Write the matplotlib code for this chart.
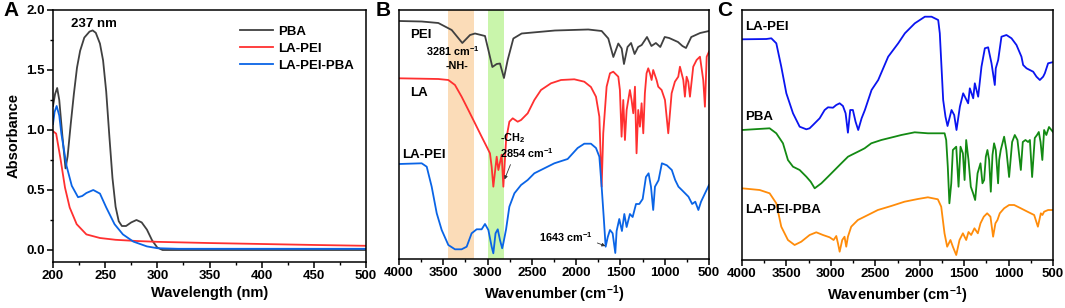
import matplotlib
matplotlib.use("Agg")
import matplotlib.pyplot as plt
from matplotlib.ticker import MultipleLocator

plt.rcParams['font.family'] = ['Liberation Sans', 'DejaVu Sans']
plt.rcParams['font.weight'] = 'bold'
plt.rcParams['mathtext.fontset'] = 'custom'
plt.rcParams['mathtext.rm'] = 'Liberation Sans:bold'
plt.rcParams['mathtext.bf'] = 'Liberation Sans:bold'
plt.rcParams['mathtext.default'] = 'bf'

# ---------------- Panel A: UV-vis ----------------
uv_pba_x = [200, 202, 204, 206, 209, 212, 214, 217, 220, 223, 226, 230, 235, 238, 241, 245, 248, 251, 254, 257, 260, 263, 266, 270, 275, 280, 285, 290, 295, 300, 305, 320, 350, 400, 450, 500]
uv_pba_y = [1.20, 1.30, 1.35, 1.25, 0.95, 0.68, 0.78, 1.05, 1.30, 1.52, 1.66, 1.77, 1.82, 1.83, 1.81, 1.72, 1.58, 1.32, 0.95, 0.60, 0.36, 0.24, 0.20, 0.20, 0.23, 0.25, 0.23, 0.17, 0.08, 0.02, 0.0, 0.0, 0.0, 0.0, 0.0, 0.0]

uv_lapei_x = [200, 203, 207, 211.5, 216, 222.7, 232, 245, 260, 280, 300, 350, 400, 450, 500]
uv_lapei_y = [0.99, 0.97, 0.77, 0.52, 0.354, 0.215, 0.13, 0.10, 0.085, 0.075, 0.068, 0.058, 0.05, 0.042, 0.035]

uv_lapeipba_x = [200, 201.5, 203.5, 206, 208, 213, 218, 224, 228, 232, 238.6, 245, 251, 259, 267, 277, 290, 300, 320, 400, 500]
uv_lapeipba_y = [1.05, 1.15, 1.20, 1.12, 0.97, 0.70, 0.535, 0.44, 0.45, 0.475, 0.50, 0.47, 0.355, 0.215, 0.13, 0.07, 0.03, 0.015, 0.01, 0.01, 0.01]

# ---------------- Panel B: FTIR (arbitrary offset units) ----------------
ir_pei_x = [4000, 3744, 3556, 3405, 3285, 3198, 3142, 3029, 2991, 2946, 2897, 2860, 2815, 2773, 2709, 2615, 2239, 1863, 1712, 1637, 1580, 1524, 1486, 1460, 1420, 1380, 1340, 1300, 1260, 1200, 1150, 1100, 1050, 1000, 950, 900, 850, 800, 760, 700, 600, 500]
ir_pei_y = [238, 237.5, 236, 229, 216, 224, 225.5, 223, 209, 192, 195, 195.5, 181, 199, 220.5, 225.5, 228.5, 229.5, 228, 220.5, 202, 215.5, 210.5, 195, 212, 216, 205, 212, 214, 222, 213, 216, 212, 222, 221, 219, 217, 213, 211, 222, 226, 228]

ir_la_x = [4000, 3744, 3556, 3443, 3368, 3293, 3217, 3142, 3067, 3010, 2973, 2954, 2935, 2897, 2878, 2841, 2822, 2791, 2754, 2716, 2660, 2622, 2547, 2472, 2397, 2284, 2171, 2021, 1908, 1833, 1776, 1738, 1712, 1694, 1656, 1618, 1581, 1524, 1506, 1487, 1468, 1449, 1430, 1393, 1374, 1355, 1336, 1318, 1299, 1280, 1261, 1242, 1224, 1205, 1186, 1167, 1148, 1130, 1092, 1073, 1035, 997, 960, 922, 885, 847, 828, 790, 772, 753, 734, 715, 678, 640, 602, 565, 546, 526, 500]
ir_la_y = [180.7, 180.3, 180, 179, 174, 162.3, 149, 135.7, 122.3, 112.3, 105.7, 92.3, 72.3, 102.3, 89, 104.3, 72.3, 119, 137.3, 140.7, 137.3, 139, 145.7, 159, 169, 175.7, 179, 179.7, 177.3, 172, 162.3, 142.3, 72.3, 125.7, 172.3, 185.7, 187.3, 182.3, 169, 122.3, 159, 119, 149, 169, 159, 145.7, 172.3, 105.7, 149, 132.3, 155.7, 125.7, 165.7, 185.7, 190.7, 185.7, 179, 189, 179, 172.3, 169, 159, 125.7, 165.7, 177.3, 182.3, 192.3, 179, 162.3, 182.3, 177.3, 162.3, 192.3, 199, 202.3, 179, 152.3, 202.3, 207.3]

ir_lapei_x = [4000, 3744, 3687, 3631, 3574, 3518, 3443, 3368, 3293, 3236, 3180, 3123, 3067, 3029, 2991, 2954, 2935, 2910, 2885, 2860, 2835, 2822, 2791, 2754, 2697, 2622, 2547, 2472, 2359, 2246, 2096, 1983, 1908, 1833, 1776, 1738, 1712, 1689, 1667, 1643, 1618, 1588, 1558, 1543, 1513, 1483, 1456, 1430, 1393, 1362, 1324, 1287, 1249, 1212, 1182, 1155, 1130, 1110, 1070, 1032, 976, 920, 882, 845, 807, 770, 732, 690, 655, 620, 590, 545, 500]
ir_lapei_y = [95, 95.7, 92.3, 72.3, 45.7, 29, 14, 9.7, 9.7, 12.3, 25.7, 29.7, 29.7, 35, 29, 12.3, 5.7, 25.7, 29.7, 19, 10.7, 15.7, 29.7, 52.3, 65.7, 74, 79, 85.7, 90.7, 95.7, 100, 111, 115.3, 115.3, 111, 102.3, 72.3, 42.3, 12.3, 22, 29, 25.7, 6, 28, 40, 28, 45, 32, 45, 42, 55, 55, 60, 82, 85.7, 72.3, 49, 72.3, 78.7, 95.7, 93.7, 89, 79, 72.3, 69, 65.7, 62.3, 55, 57.3, 49, 57.3, 65.7, 74]

# ---------------- Panel C: FTIR ----------------
irc_lapei_x = [4000, 3726, 3670, 3614, 3558, 3501, 3426, 3351, 3276, 3239, 3201, 3126, 3070, 3032, 2976, 2939, 2901, 2864, 2834, 2808, 2782, 2752, 2722, 2692, 2654, 2617, 2542, 2467, 2355, 2242, 2167, 2055, 1942, 1867, 1792, 1774, 1755, 1736, 1710, 1687, 1642, 1612, 1586, 1548, 1511, 1473, 1455, 1436, 1398, 1380, 1342, 1305, 1267, 1230, 1192, 1155, 1144, 1117, 1080, 1024, 967, 911, 855, 836, 798, 761, 723, 686, 648, 611, 592, 555, 480]
irc_lapei_y = [220.7, 221, 221.7, 216.7, 193.3, 166.7, 146.7, 133.3, 130.7, 131.7, 135, 141.7, 150, 152.7, 152.3, 155, 156.7, 154, 146.7, 127.3, 150, 150, 138.3, 130, 141.7, 150, 170, 180, 203.3, 216.7, 226.7, 236.7, 243.3, 243.3, 240, 226.7, 193.3, 160, 143.3, 134, 150, 145, 130, 153.3, 166.7, 160, 156.7, 171.7, 161.7, 176.7, 163.3, 193.3, 211.7, 212.7, 196.7, 175, 191.7, 200, 223.3, 225, 221.7, 215, 203.3, 195, 191.7, 190, 188.3, 183.3, 180, 183.3, 186.7, 196.7, 198.3]

irc_pba_x = [4000, 3689, 3614, 3539, 3483, 3426, 3351, 3276, 3227, 3182, 3107, 3032, 2957, 2882, 2807, 2770, 2695, 2657, 2620, 2545, 2432, 2282, 2207, 2057, 1907, 1720, 1702, 1684, 1666, 1645, 1627, 1589, 1563, 1541, 1514, 1495, 1477, 1451, 1425, 1399, 1376, 1349, 1316, 1294, 1275, 1256, 1238, 1219, 1200, 1181, 1163, 1144, 1118, 1106, 1088, 1050, 1025, 994, 960, 930, 900, 862, 840, 810, 780, 760, 735, 705, 680, 660, 640, 620, 600, 575, 545, 500]
irc_pba_y = [130, 131.7, 126.7, 116.7, 100, 93.3, 90, 83.3, 78.3, 71.7, 76.7, 83.3, 90, 96.7, 103.3, 105, 108.3, 110, 111.7, 116.7, 120, 123.3, 125, 127.7, 126.7, 126.7, 120, 93.3, 56.7, 76.7, 110, 113.3, 73.3, 113.3, 106.7, 80, 120, 100, 73.3, 66.7, 60, 86.7, 96.7, 76.7, 80, 103.3, 110, 100, 68.3, 105, 116.7, 110, 76.7, 100, 110, 123.3, 110, 83, 118, 125, 120, 90, 118, 120, 118, 120, 83, 122, 125, 128, 118, 100, 130, 125, 133, 128]

irc_lapeipba_x = [4000, 3801, 3689, 3614, 3558, 3483, 3408, 3333, 3239, 3164, 3089, 3014, 2969, 2939, 2920, 2901, 2872, 2846, 2827, 2808, 2771, 2696, 2583, 2471, 2321, 2171, 2021, 1908, 1796, 1758, 1721, 1691, 1654, 1627, 1589, 1552, 1514, 1477, 1451, 1421, 1384, 1346, 1316, 1279, 1241, 1204, 1174, 1148, 1125, 1099, 1050, 994, 937, 862, 787, 712, 670, 637, 619, 600, 555, 500]
irc_lapeipba_y = [71.7, 70, 66.7, 56.7, 33.3, 20, 15, 18.3, 25, 27.7, 25, 22.7, 20, 24, 16.7, 8.3, 20, 23.3, 13.3, 23.3, 33.3, 40, 45, 50, 54, 58.3, 61, 62.7, 60.7, 53.3, 26.7, 13.3, 20, 13.3, 5, 20, 26.7, 20, 28, 25, 31.7, 26.7, 36.7, 43.3, 46.7, 43.3, 23.3, 36.7, 40, 46.7, 51.7, 55, 55, 51.7, 48.3, 45, 33.3, 46.7, 45, 48.3, 50, 50]

# ---------------- Figure ----------------
fig = plt.figure(figsize=(10.65, 3.08), dpi=100)
W, H = 1065.0, 308.0

def add_axes(l, r, t, b):
    return fig.add_axes([l / W, 1 - b / H, (r - l) / W, (b - t) / H])

axA = add_axes(53, 366, 10, 262)
axB = add_axes(399, 709, 10, 259)
axC = add_axes(742, 1053, 10, 260)

tick_fs = 9.5
lab_fs = 10.5
wn_label = 'Wavenumber (cm$^{-1}$)'

for ax in (axA, axB, axC):
    for s in ax.spines.values():
        s.set_linewidth(1.1)
    ax.tick_params(which='major', direction='out', length=4, width=1.1, labelsize=tick_fs, pad=2)
    ax.tick_params(which='minor', direction='out', length=2.2, width=1.0)

# Panel A
axA.plot(uv_pba_x, uv_pba_y, color='#404040', lw=1.3, label='PBA')
axA.plot(uv_lapei_x, uv_lapei_y, color='#ff3030', lw=1.3, label='LA-PEI')
axA.plot(uv_lapeipba_x, uv_lapeipba_y, color='#0a64e6', lw=1.3, label='LA-PEI-PBA')
axA.set_xlim(200, 500)
axA.set_ylim(-0.1, 2.0)
axA.xaxis.set_major_locator(MultipleLocator(50))
axA.xaxis.set_minor_locator(MultipleLocator(25))
axA.yaxis.set_major_locator(MultipleLocator(0.5))
axA.yaxis.set_minor_locator(MultipleLocator(0.25))
axA.yaxis.set_major_formatter(matplotlib.ticker.FormatStrFormatter('%.1f'))
axA.set_xlabel('Wavelength (nm)', fontsize=lab_fs, fontweight='bold', labelpad=3)
axA.set_ylabel('Absorbance', fontsize=lab_fs, fontweight='bold', labelpad=4)
leg = axA.legend(loc='upper right', bbox_to_anchor=(1.0, 0.985), frameon=False, fontsize=9.5,
                 handlelength=2.5, handletextpad=0.4, labelspacing=0.35)
for t in leg.get_texts():
    t.set_fontweight('bold')
axA.text(239, 1.885, '237 nm', fontsize=9.5, fontweight='bold', ha='center', va='center')

# Panel B
axB.axvspan(3450, 3150, color='#fbdcb8', lw=0)
axB.axvspan(3000, 2810, color='#c9f5ab', lw=0)
axB.plot(ir_pei_x, ir_pei_y, color='#404040', lw=1.3)
axB.plot(ir_la_x, ir_la_y, color='#ff3030', lw=1.3)
axB.plot(ir_lapei_x, ir_lapei_y, color='#0a64e6', lw=1.3)
axB.set_xlim(4000, 500)
axB.set_ylim(0, 249)
axB.set_yticks([])
axB.xaxis.set_major_locator(MultipleLocator(500))
axB.xaxis.set_minor_locator(MultipleLocator(250))
axB.set_xlabel(wn_label, fontsize=lab_fs, fontweight='bold', labelpad=3)
axB.text(3880, 224, 'PEI', fontsize=9.5, fontweight='bold', ha='left', va='center')
axB.text(3880, 166, 'LA', fontsize=9.5, fontweight='bold', ha='left', va='center')
axB.text(3960, 104, 'LA-PEI', fontsize=9.5, fontweight='bold', ha='left', va='center')
axB.text(3390, 207.5, '3281 cm$^{-1}$', fontsize=7.8, fontweight='bold', ha='center', va='center')
axB.text(3350, 193.5, '-NH-', fontsize=7.8, fontweight='bold', ha='center', va='center')
axB.text(2860, 121, '-CH$_{2}$', fontsize=7.8, fontweight='bold', ha='left', va='center')
axB.text(2860, 106, '2854 cm$^{-1}$', fontsize=7.8, fontweight='bold', ha='left', va='center')
axB.annotate('', xy=(2820, 77), xytext=(2730, 97),
             arrowprops=dict(arrowstyle='-|>', color='#333333', lw=0.6, mutation_scale=5))
axB.text(1810, 22, '1643 cm$^{-1}$', fontsize=7.8, fontweight='bold', ha='right', va='center')
axB.annotate('', xy=(1640, 12), xytext=(1790, 17),
             arrowprops=dict(arrowstyle='-|>', color='#333333', lw=0.6, mutation_scale=5))

# Panel C
axC.plot(irc_lapei_x, irc_lapei_y, color='#0a14f0', lw=1.3)
axC.plot(irc_pba_x, irc_pba_y, color='#138a13', lw=1.3)
axC.plot(irc_lapeipba_x, irc_lapeipba_y, color='#ff8c0a', lw=1.3)
axC.set_xlim(4000, 500)
axC.set_ylim(0, 250)
axC.set_yticks([])
axC.xaxis.set_major_locator(MultipleLocator(500))
axC.xaxis.set_minor_locator(MultipleLocator(250))
axC.set_xlabel(wn_label, fontsize=lab_fs, fontweight='bold', labelpad=3)
axC.text(3960, 233, 'LA-PEI', fontsize=9.5, fontweight='bold', ha='left', va='center')
axC.text(3960, 143, 'PBA', fontsize=9.5, fontweight='bold', ha='left', va='center')
axC.text(3960, 50, 'LA-PEI-PBA', fontsize=9.5, fontweight='bold', ha='left', va='center')

for ax in (axA, axB, axC):
    for lab in ax.get_xticklabels() + ax.get_yticklabels():
        lab.set_fontweight('bold')

# Panel letters
fig.text(3 / W, 1 - 11 / H, 'A', fontsize=15, fontweight='bold', ha='left', va='center')
fig.text(376 / W, 1 - 11 / H, 'B', fontsize=15, fontweight='bold', ha='left', va='center')
fig.text(717 / W, 1 - 11 / H, 'C', fontsize=15, fontweight='bold', ha='left', va='center')

fig.savefig('out.png', dpi=100)
